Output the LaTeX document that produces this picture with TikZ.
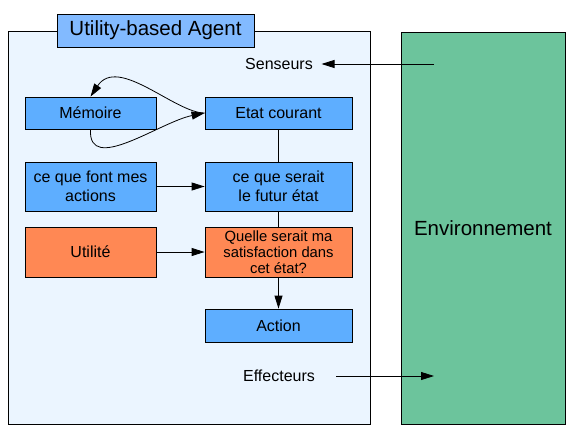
\documentclass[tikz,border=0pt]{standalone}
\usepackage{fontspec}
\setmainfont{Liberation Sans}
\usepackage{tikz}
\usetikzlibrary{arrows.meta}

\definecolor{agentfond}{RGB}{235,245,255}
\definecolor{titrebleu}{RGB}{130,186,255}
\definecolor{blocbleu}{RGB}{94,174,255}
\definecolor{blocorange}{RGB}{255,136,84}
\definecolor{envvert}{RGB}{108,196,156}

\begin{document}
\begin{tikzpicture}[x=1pt,y=-1pt,
		bloc/.style={draw=black,line width=0.8pt,fill=blocbleu,inner sep=0pt,minimum width=147pt,align=center,font=\fontsize{16}{19}\selectfont},
		blocg/.style={bloc,minimum width=131pt},
		fleche/.style={line width=0.8pt,-{Triangle[length=13pt,width=8pt]}},
		lien/.style={line width=0.8pt}]
		\useasboundingbox (0,0) rectangle (577,434);

		%agent + environnement
		\node[draw=black,line width=0.8pt,fill=agentfond,minimum width=362pt,minimum height=393pt] (agent) at (189,227.5) {};
		\node[draw=black,line width=0.8pt,fill=envvert,minimum width=164pt,minimum height=392pt,font=\fontsize{20.5}{24}\selectfont] (env) at (483,228) {Environnement};
		\node[draw=black,line width=0.8pt,fill=titrebleu,minimum width=197pt,minimum height=33pt,inner sep=0pt,font=\fontsize{20.5}{24}\selectfont] (titre) at (155.5,30.5) {Utility-based Agent};

		%blocs
		\node[blocg,minimum height=32pt] (memoire) at (90.5,113) {Mémoire};
		\node[bloc,minimum height=32pt] (etat) at (278.5,113) {Etat courant};
		\node[blocg,minimum height=49pt] (actions) at (90.5,186.5) {ce que font mes\\actions};
		\node[bloc,minimum height=49pt] (futur) at (278.5,186.5) {ce que serait\\le futur état};
		\node[blocg,fill=blocorange,minimum height=50pt] (utilite) at (90.5,252) {Utilité};
		\node[bloc,fill=blocorange,minimum height=50pt,font=\fontsize{14.8}{16}\selectfont] (satisf) at (278.5,252) {Quelle serait ma\\satisfaction dans\\cet état?};
		\node[bloc,minimum height=33pt] (action) at (278.5,325.5) {Action};

		%senseurs / effecteurs
		\node[inner xsep=8.5pt,font=\fontsize{16}{19}\selectfont] (senseurs) at (279,64) {Senseurs};
		\node[inner xsep=21pt,font=\fontsize{16}{19}\selectfont] (effecteurs) at (279,376) {Effecteurs};
		\coordinate (envin) at (434,64);
		\coordinate (envout) at (434,376);

		%fleches:
		\draw[fleche] (envin) -- (senseurs.east);
		\draw[fleche] (effecteurs.east) -- (envout);
		\draw[fleche] (etat.west) .. controls (175,113) and (118,55) .. (memoire.north);
		\draw[fleche] (memoire.south) .. controls (88,175) and (160,122) .. (etat.west);
		\draw[lien] (etat) -- (futur);
		\draw[lien] (futur) -- (satisf);
		\draw[fleche] (satisf) -- (action);
		\draw[fleche] (actions) -- (futur);
		\draw[fleche] (utilite) -- (satisf);

		\end{tikzpicture}
\end{document}
